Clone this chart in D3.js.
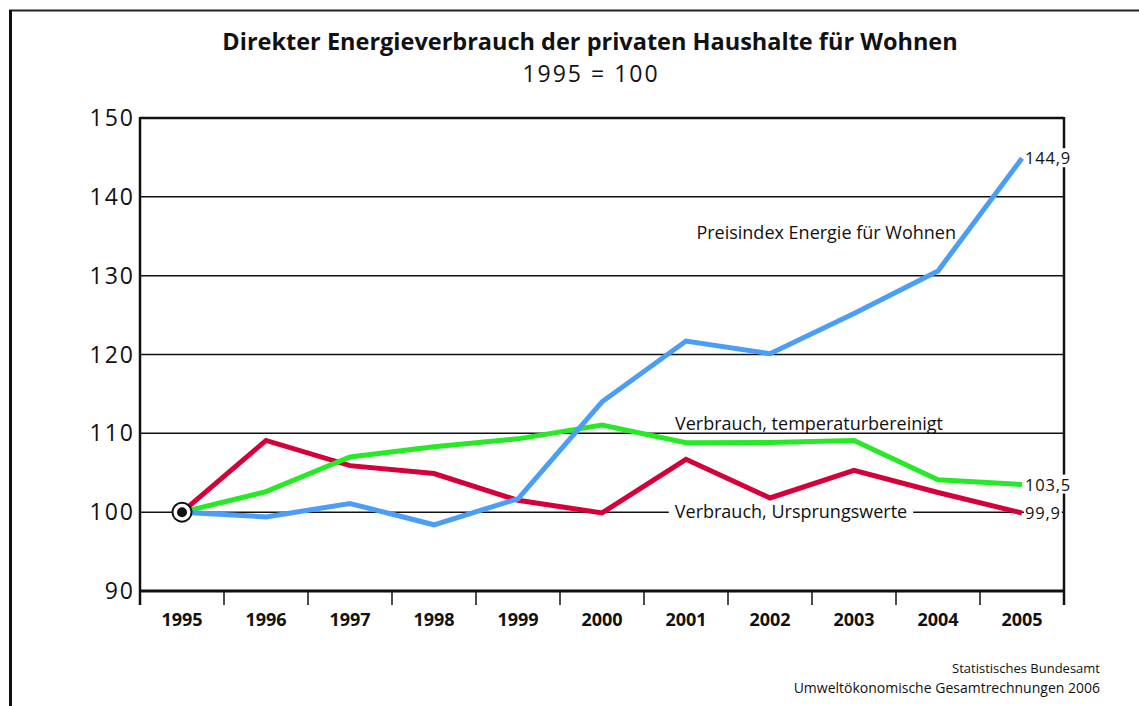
<!DOCTYPE html>
<html>
<head>
<meta charset="utf-8">
<script src="https://cdn.jsdelivr.net/npm/d3@7"></script>
<style>
  body { margin: 0; background: #fff; }
  svg { font-family: "Open Sans", sans-serif; }
  .grid line { stroke: #111; stroke-width: 1.5; }
  .ylab { font-size: 23px; letter-spacing: 2px; fill: #111; }
  .xlab { font-size: 18px; font-weight: bold; fill: #111; }
  .lbl { font-size: 18px; fill: #111; }
  .val { font-size: 16.5px; letter-spacing: 0.8px; fill: #111; }
</style>
</head>
<body>
<svg width="1139" height="706"></svg>
<script>
const years = ["1995", "1996", "1997", "1998", "1999", "2000", "2001", "2002", "2003", "2004", "2005"];
const preisindex = [100, 99.4, 101.1, 98.4, 101.7, 114.0, 121.7, 120.1, 125.2, 130.6, 144.9];
const temperaturbereinigt = [100, 102.6, 107.0, 108.3, 109.3, 111.05, 108.8, 108.85, 109.1, 104.1, 103.5];
const ursprungswerte = [100, 109.1, 105.9, 104.9, 101.5, 99.9, 106.7, 101.8, 105.3, 102.5, 99.9];
const yTicks = [90, 100, 110, 120, 130, 140, 150];

const svg = d3.select("svg"),
      pLeft = 140, pRight = 1064, pTop = 118, pBottom = 591;

const x = d3.scaleBand().domain(years).range([pLeft, pRight]);
const y = d3.scaleLinear().domain([90, 150]).range([pBottom, pTop]);

// outer frame
svg.append("line").attr("x1", 9).attr("x2", 1139).attr("y1", 10.5).attr("y2", 10.5)
   .attr("stroke", "#222").attr("stroke-width", 2);
svg.append("line").attr("x1", 10.5).attr("x2", 10.5).attr("y1", 10).attr("y2", 706)
   .attr("stroke", "#111").attr("stroke-width", 3);

// title
svg.append("text").attr("x", 590).attr("y", 50).attr("text-anchor", "middle")
   .style("font-size", "23.5px").style("font-weight", "bold").attr("fill", "#111")
   .text("Direkter Energieverbrauch der privaten Haushalte für Wohnen");
svg.append("text").attr("x", 591).attr("y", 82).attr("text-anchor", "middle")
   .style("font-size", "23px").style("letter-spacing", "2px").attr("fill", "#111")
   .text("1995 = 100");

// gridlines
svg.append("g").attr("class", "grid")
   .selectAll("line").data(yTicks.filter(d => d > 90 && d < 150)).join("line")
   .attr("x1", pLeft).attr("x2", pRight)
   .attr("y1", d => y(d)).attr("y2", d => y(d));

// y labels
svg.append("g").selectAll("text").data(yTicks).join("text")
   .attr("class", "ylab")
   .attr("x", 135).attr("y", d => y(d) + 8)
   .attr("text-anchor", "end")
   .text(d => d);

// frame of plot
const edges = years.map(d => x(d)).concat([pRight]);
svg.append("g").selectAll("line").data(edges).join("line")
   .attr("x1", d => d).attr("x2", d => d)
   .attr("y1", pBottom).attr("y2", pBottom + 14)
   .attr("stroke", "#111").attr("stroke-width", 1.5);
svg.append("line").attr("x1", pLeft).attr("x2", pRight).attr("y1", pTop).attr("y2", pTop)
   .attr("stroke", "#111").attr("stroke-width", 2.5);
svg.append("line").attr("x1", pLeft).attr("x2", pRight).attr("y1", pBottom).attr("y2", pBottom)
   .attr("stroke", "#111").attr("stroke-width", 3);
svg.append("line").attr("x1", pLeft).attr("x2", pLeft).attr("y1", pTop - 1).attr("y2", pBottom + 14)
   .attr("stroke", "#111").attr("stroke-width", 2.5);
svg.append("line").attr("x1", pRight).attr("x2", pRight).attr("y1", pTop - 1).attr("y2", pBottom + 14)
   .attr("stroke", "#111").attr("stroke-width", 2.5);

// x labels
svg.append("g").selectAll("text").data(years).join("text")
   .attr("class", "xlab")
   .attr("x", d => x(d) + x.bandwidth() / 2).attr("y", 626)
   .attr("text-anchor", "middle")
   .text(d => d);

// inline labels with white background
function boxLabel(txt, cx, cy, cls, anchor, pad) {
  const g = svg.append("g");
  const t = g.append("text").attr("class", cls).attr("x", cx).attr("y", cy)
             .attr("text-anchor", anchor).text(txt);
  const b = t.node().getBBox();
  g.insert("rect", "text").attr("x", b.x - pad).attr("y", b.y + 2)
   .attr("width", b.width + 2 * pad).attr("height", b.height - 4).attr("fill", "#fff");
  return g;
}
boxLabel("Verbrauch, Ursprungswerte", 791, 518, "lbl", "middle", 6);

const line = d3.line().x((d, i) => x(years[i]) + x.bandwidth() / 2).y(d => y(d));
const series = [
  { values: ursprungswerte, color: "#d5003a" },
  { values: temperaturbereinigt, color: "#26ea26" },
  { values: preisindex, color: "#4a9ef8" }
];
svg.append("g").selectAll("path").data(series).join("path")
   .attr("d", d => line(d.values))
   .attr("fill", "none").attr("stroke", d => d.color)
   .attr("stroke-width", 5).attr("stroke-linejoin", "miter");

svg.append("text").attr("class", "lbl").attr("x", 956).attr("y", 239).attr("text-anchor", "end")
   .text("Preisindex Energie für Wohnen");
svg.append("text").attr("class", "lbl").attr("x", 943).attr("y", 430).attr("text-anchor", "end")
   .text("Verbrauch, temperaturbereinigt");

// end values
const fmt = v => d3.format(".1f")(v).replace(".", ",");
const last = years[years.length - 1];
[preisindex, temperaturbereinigt, ursprungswerte].forEach(s => {
  const v = s[s.length - 1];
  boxLabel(fmt(v), x(last) + x.bandwidth() / 2 + 3, y(v) + 6, "val", "start", 1);
});

// base marker
svg.append("circle").attr("cx", x("1995") + x.bandwidth() / 2).attr("cy", y(100)).attr("r", 9.5)
   .attr("fill", "#fff").attr("stroke", "#111").attr("stroke-width", 2);
svg.append("circle").attr("cx", x("1995") + x.bandwidth() / 2).attr("cy", y(100)).attr("r", 5)
   .attr("fill", "#111");

// source
svg.append("text").attr("x", 1100).attr("y", 673).attr("text-anchor", "end")
   .style("font-size", "13px").attr("fill", "#111").text("Statistisches Bundesamt");
svg.append("text").attr("x", 1100).attr("y", 693).attr("text-anchor", "end")
   .style("font-size", "14px").attr("fill", "#111").text("Umweltökonomische Gesamtrechnungen 2006");
</script>
</body>
</html>
